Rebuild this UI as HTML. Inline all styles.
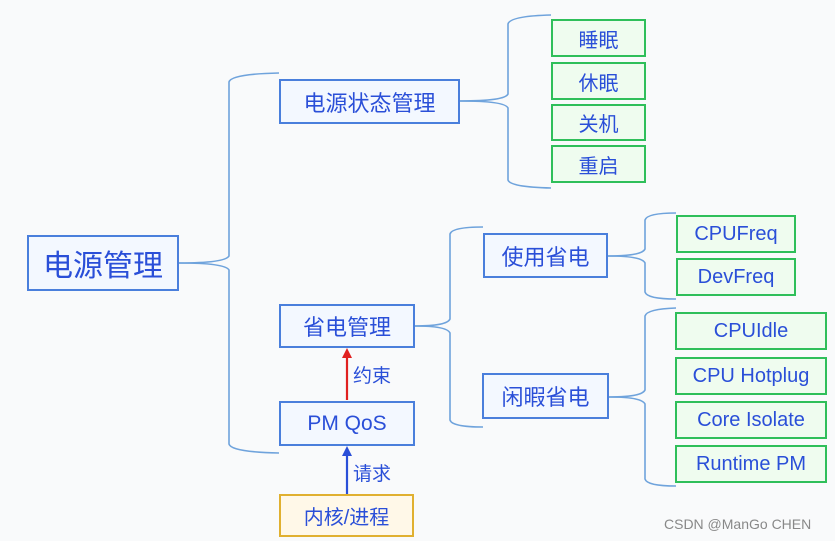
<!DOCTYPE html><html><head><meta charset="utf-8"><style>
body{margin:0;width:835px;height:541px;background:#f9fafb;position:relative;overflow:hidden;font-family:"Liberation Sans","Noto Sans CJK SC",sans-serif}
.b{position:absolute;box-sizing:border-box;border:2px solid #4a7fdc;background:#f3f8ff;color:#2a4fd8;display:flex;align-items:center;justify-content:center;white-space:nowrap}
.g{border-color:#2fbf5a;background:#effcef;font-size:20px}
.t{position:absolute;color:#2a4fd8;font-size:19px}
</style></head><body>
<svg width="835" height="541" style="position:absolute;left:0;top:0" fill="none" stroke="#6fa3dc" stroke-width="1.6">
<path d="M179 263 Q225 263 229 256 L229 82 Q231 74 279 73"/><path d="M179 263 Q225 263 229 270 L229 444 Q231 452 279 453"/>
<path d="M460 101 Q505 101 508 94 L508 24 Q510 16 551 15"/><path d="M460 101 Q505 101 508 108 L508 180 Q510 187 551 188"/>
<path d="M415 326 Q447 326 450 319 L450 234 Q452 227 483 227"/><path d="M415 326 Q447 326 450 333 L450 420 Q452 427 483 427"/>
<path d="M608 256 Q642 256 645 249 L645 220 Q647 213 676 213"/><path d="M608 256 Q642 256 645 263 L645 292 Q647 299 676 299"/>
<path d="M609 397 Q642 397 645 390 L645 316 Q647 309 676 308"/><path d="M609 397 Q642 397 645 404 L645 479 Q647 486 676 486"/>
<line x1="347" y1="400" x2="347" y2="356" stroke="#e02020" stroke-width="2.2"/><path d="M342 358 L347 348 L352 358Z" fill="#e02020" stroke="none"/>
<line x1="347" y1="494" x2="347" y2="454" stroke="#2a4fd8" stroke-width="2.2"/><path d="M342 456 L347 446 L352 456Z" fill="#2a4fd8" stroke="none"/>
</svg>
<div class="b" style="left:27px;top:235px;width:152px;height:56px;font-size:30px">电源管理</div>
<div class="b" style="left:279px;top:79px;width:181px;height:45px;font-size:22px">电源状态管理</div>
<div class="b g" style="left:551px;top:19px;width:95px;height:38px">睡眠</div>
<div class="b g" style="left:551px;top:62px;width:95px;height:38px">休眠</div>
<div class="b g" style="left:551px;top:104px;width:95px;height:37px">关机</div>
<div class="b g" style="left:551px;top:145px;width:95px;height:38px">重启</div>
<div class="b" style="left:279px;top:304px;width:136px;height:44px;font-size:22px">省电管理</div>
<div class="b" style="left:279px;top:401px;width:136px;height:45px;font-size:21px">PM QoS</div>
<div class="b" style="left:279px;top:494px;width:135px;height:43px;font-size:20px;border-color:#e0b030;background:#fff8e8">内核/进程</div>
<div class="b" style="left:483px;top:233px;width:125px;height:45px;font-size:22px">使用省电</div>
<div class="b" style="left:482px;top:373px;width:127px;height:46px;font-size:22px">闲暇省电</div>
<div class="b g" style="left:676px;top:215px;width:120px;height:38px">CPUFreq</div>
<div class="b g" style="left:676px;top:258px;width:120px;height:38px">DevFreq</div>
<div class="b g" style="left:675px;top:312px;width:152px;height:38px">CPUIdle</div>
<div class="b g" style="left:675px;top:357px;width:152px;height:38px">CPU Hotplug</div>
<div class="b g" style="left:675px;top:401px;width:152px;height:38px">Core Isolate</div>
<div class="b g" style="left:675px;top:445px;width:152px;height:38px">Runtime PM</div>
<div class="t" style="left:353px;top:361px">约束</div>
<div class="t" style="left:353px;top:459px">请求</div>
<div style="position:absolute;left:664px;top:516px;font-size:14px;color:#888">CSDN @ManGo CHEN</div>
</body></html>
